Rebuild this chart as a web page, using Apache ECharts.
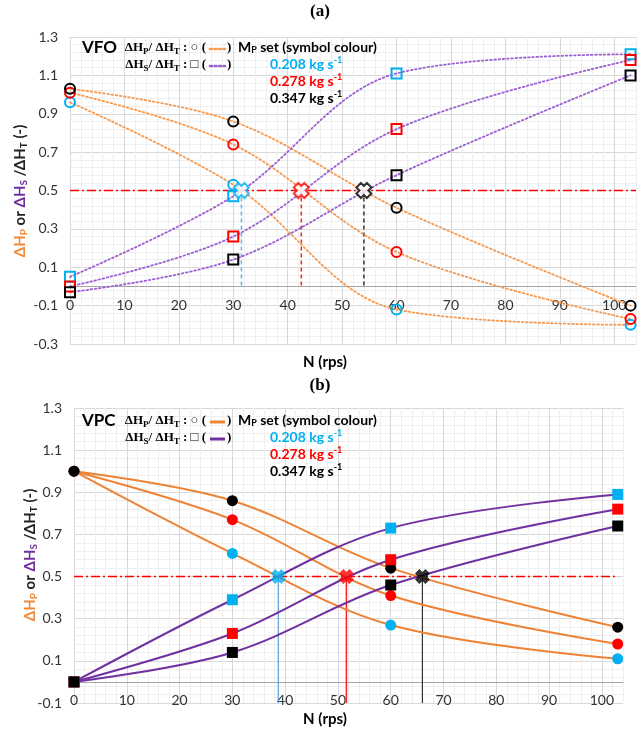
<!DOCTYPE html>
<html><head><meta charset="utf-8">
<script src="https://cdn.jsdelivr.net/npm/echarts@6/dist/echarts.min.js"></script>
<style>html,body{margin:0;padding:0;background:#fff}#c{width:640px;height:731px}</style>
</head><body><div id="c"></div>
<script>
// ---------- data ----------
const N = [0, 30, 60, 103];                 // rotational speed (rps)
const massFlows = ['0.208', '0.278', '0.347'];
const setColours = ['#00b0f0', '#ff0000', '#000000'];

// (a) VFO
const vfoHP_208 = [0.96, 0.53, -0.12, -0.20];
const vfoHP_278 = [1.01, 0.74, 0.18, -0.17];
const vfoHP_347 = [1.03, 0.86, 0.41, -0.10];
const vfoHS_208 = [0.05, 0.47, 1.11, 1.21];
const vfoHS_278 = [0.00, 0.26, 0.82, 1.18];
const vfoHS_347 = [-0.03, 0.14, 0.58, 1.10];
const vfoCrossN = [31.5, 42.5, 54];

// (b) VPC
const vpcHP_208 = [1.00, 0.61, 0.27, 0.11];
const vpcHP_278 = [1.00, 0.77, 0.41, 0.18];
const vpcHP_347 = [1.00, 0.86, 0.54, 0.26];
const vpcHS_208 = [0.00, 0.39, 0.73, 0.89];
const vpcHS_278 = [0.00, 0.23, 0.58, 0.82];
const vpcHS_347 = [0.00, 0.14, 0.46, 0.74];
const vpcCrossN = [38.7, 51.6, 66];

const halfLevel = 0.5;
const nRange = [0, 104];
const yRangeA = [-0.3, 1.3];
const yRangeB = [-0.1, 1.3];
const refSpanA = [0, 104];
const refSpanB = [0, 103];
const dropToA = 0;
const dropToB = -0.1;
const xTickStep = 10;
const yTickStep = 0.2;

// ---------- layout ----------
const gridA = { left: 70, right: 4, top: 37, bottom: 387 };
const gridB = { left: 74, right: 17, top: 408, bottom: 28 };
const H = 731;
function zeroOffset(g, range) {
  const h = H - g.top - g.bottom;
  return -h * (0 - range[0]) / (range[1] - range[0]);
}

// ---------- styling ----------
const LF = 'Lato';
const orangeA = '#f79a50', purpleA = '#9b5fd2';
const orangeB = '#ee8336', purpleB = '#7030a0';
const dropColsA = ['#5fb6e8', '#ff2020', '#333333'];
const dropColsB = ['#5b9bd5', '#ff2020', '#333333'];
const crossPath = 'path://M3,0L5,2L7,0L10,3L8,5L10,7L7,10L5,8L3,10L0,7L2,5L0,3Z';

function xAxisFor(g, off) {
  return {
    type: 'value', gridIndex: g, min: nRange[0], max: nRange[1], interval: 2,
    position: 'bottom', offset: off,
    axisLine: { onZero: false, lineStyle: { color: '#a6a6a6', width: 1 } },
    axisTick: { show: false },
    axisLabel: { margin: 12, fontFamily: LF, fontSize: 14, color: '#333',
      formatter: v => (Math.round(v) % xTickStep === 0 ? String(Math.round(v)) : '') },
    splitLine: { show: true, lineStyle: { color: ['#d9d9d9', '#efefef', '#efefef', '#efefef', '#efefef'], width: 1 } }
  };
}
function yAxisFor(g, range) {
  return {
    type: 'value', gridIndex: g, min: range[0], max: range[1], interval: yTickStep,
    axisLine: { show: false }, axisTick: { show: false },
    axisLabel: { margin: 12, fontFamily: LF, fontSize: 14, color: '#333', formatter: v => v.toFixed(1) },
    splitLine: { show: true, lineStyle: { color: '#d9d9d9' } },
    minorTick: { show: false, splitNumber: 5 },
    minorSplitLine: { show: true, lineStyle: { color: '#efefef' } }
  };
}
const pts = arr => N.map((n, i) => [n, arr[i]]);

function curve(g, arr, col, lineCol, symbol, filled, dotted, size) {
  return {
    type: 'line', xAxisIndex: g, yAxisIndex: g, data: pts(arr),
    smooth: 0.35, symbol: symbol, symbolSize: size, showAllSymbol: true, clip: false,
    lineStyle: dotted ? { color: lineCol, width: 1.8, type: [1.6, 2.6], cap: 'round' }
                      : { color: lineCol, width: 2 },
    itemStyle: filled ? { color: col, borderWidth: 0 }
                      : { color: 'rgba(255,255,255,0)', borderColor: col, borderWidth: 2 },
    z: 3, silent: true
  };
}

const series = [];
series.push({ type: 'line', xAxisIndex: 0, yAxisIndex: 0, data: refSpanA.map(x => [x, halfLevel]),
  symbol: 'none', lineStyle: { color: '#ff0000', width: 1.5, type: [9, 3, 2, 3] }, z: 2, silent: true });
series.push({ type: 'line', xAxisIndex: 1, yAxisIndex: 1, data: refSpanB.map(x => [x, halfLevel]),
  symbol: 'none', lineStyle: { color: '#ff0000', width: 1.5, type: [9, 3, 2, 3] }, z: 2, silent: true });
vfoCrossN.forEach((n, i) => series.push({ type: 'line', xAxisIndex: 0, yAxisIndex: 0,
  data: [[n, halfLevel], [n, dropToA]], symbol: 'none',
  lineStyle: { color: dropColsA[i], width: 1.5, type: [4, 3] }, z: 2, silent: true }));
vpcCrossN.forEach((n, i) => series.push({ type: 'line', xAxisIndex: 1, yAxisIndex: 1,
  data: [[n, halfLevel], [n, dropToB]], symbol: 'none',
  lineStyle: { color: dropColsB[i], width: i === 1 ? 1.5 : 1.2 }, z: 2, silent: true }));

[vfoHP_208, vfoHP_278, vfoHP_347].forEach((a, i) => series.push(curve(0, a, setColours[i], orangeA, 'circle', false, true, 10)));
[vfoHS_208, vfoHS_278, vfoHS_347].forEach((a, i) => series.push(curve(0, a, setColours[i], purpleA, 'rect', false, true, 10)));
[vpcHP_208, vpcHP_278, vpcHP_347].forEach((a, i) => series.push(curve(1, a, setColours[i], orangeB, 'circle', true, false, 11)));
[vpcHS_208, vpcHS_278, vpcHS_347].forEach((a, i) => series.push(curve(1, a, setColours[i], purpleB, 'rect', true, false, 11)));

vfoCrossN.forEach((n, i) => series.push({ type: 'scatter', xAxisIndex: 0, yAxisIndex: 0, data: [[n, halfLevel]],
  symbol: crossPath, symbolSize: 15, itemStyle: { color: '#ffffff', borderColor: setColours[i], borderWidth: 2 }, z: 5, silent: true }));
vpcCrossN.forEach((n, i) => series.push({ type: 'scatter', xAxisIndex: 1, yAxisIndex: 1, data: [[n, halfLevel]],
  symbol: crossPath, symbolSize: 15, itemStyle: { color: setColours[i] }, z: 5, silent: true }));

// ---------- texts ----------
const serifB = 'bold 13px "Liberation Serif"';
const subRich = {
  m: { fontFamily: 'Liberation Serif', fontWeight: 'bold', fontSize: 13, lineHeight: 16, fill: '#000', color: '#000' },
  s: { fontFamily: 'Liberation Serif', fontWeight: 'bold', fontSize: 9, lineHeight: 9, verticalAlign: 'bottom', fill: '#000', color: '#000' }
};
function txt(x, y, text, font, fill, align, extra) {
  return { type: 'text', x: x, y: y, silent: true, z: 10,
    style: Object.assign({ text: text, font: font, fill: fill, align: align || 'left', verticalAlign: 'middle',
      textAlign: align || 'left', textVerticalAlign: 'middle' }, extra || {}) };
}
function legendBlock(y0, label, dotted, oCol, pCol) {
  const out = [];
  out.push(txt(82, y0, label, 'bold 17px Lato', '#000'));
  out.push(txt(206, y0, '{m|ΔH}{s|P}{m|/ ΔH}{s|T}{m| : ○ (}', serifB, '#000', 'right', { rich: subRich }));
  out.push(txt(206, y0 + 17, '{m|ΔH}{s|S}{m|/ ΔH}{s|T}{m| : □ (}', serifB, '#000', 'right', { rich: subRich }));
  out.push(txt(227, y0, ')', serifB, '#000'));
  out.push(txt(227, y0 + 17, ')', serifB, '#000'));
  const ls = dotted ? { lineWidth: 2.5, lineDash: [2, 2.6], lineCap: 'round' } : { lineWidth: 3 };
  out.push({ type: 'line', silent: true, z: 10, shape: { x1: 210, y1: y0 + 1, x2: 225, y2: y0 + 1 },
    style: Object.assign({ stroke: oCol }, ls) });
  out.push({ type: 'line', silent: true, z: 10, shape: { x1: 210, y1: y0 + 18, x2: 225, y2: y0 + 18 },
    style: Object.assign({ stroke: pCol }, ls) });
  const lr = {
    m: { fontFamily: LF, fontWeight: 'bold', fontSize: 14, lineHeight: 16 },
    s: { fontFamily: LF, fontWeight: 'bold', fontSize: 9, lineHeight: 9, verticalAlign: 'bottom' }
  };
  out.push(txt(238, y0 - 1, '{m|M}{s|P}{m| set (symbol colour)}', 'bold 14px Lato', '#000', 'left', { rich: lr }));
  massFlows.forEach((m, i) => {
    const r = {
      m: { fontFamily: LF, fontWeight: 'bold', fontSize: 14, lineHeight: 16, fill: setColours[i], color: setColours[i] },
      u: { fontFamily: LF, fontWeight: 'bold', fontSize: 9, lineHeight: 9, verticalAlign: 'top', fill: setColours[i], color: setColours[i] }
    };
    out.push(txt(270, y0 + 16 + 17 * i, '{m|' + m + ' kg s}{u|-1}', 'bold 14px Lato', setColours[i], 'left', { rich: r }));
  });
  return out;
}
const yNameRich = {
  o: { fontFamily: LF, fontWeight: 'bold', fontSize: 15, lineHeight: 18, fill: '#f08a3c', color: '#f08a3c' },
  os: { fontFamily: LF, fontWeight: 'bold', fontSize: 10, lineHeight: 10, verticalAlign: 'bottom', fill: '#f08a3c', color: '#f08a3c' },
  p: { fontFamily: LF, fontWeight: 'bold', fontSize: 15, lineHeight: 18, fill: '#7030a0', color: '#7030a0' },
  ps: { fontFamily: LF, fontWeight: 'bold', fontSize: 10, lineHeight: 10, verticalAlign: 'bottom', fill: '#7030a0', color: '#7030a0' },
  k: { fontFamily: LF, fontWeight: 'bold', fontSize: 15, lineHeight: 18, fill: '#222', color: '#222' },
  ks: { fontFamily: LF, fontWeight: 'bold', fontSize: 10, lineHeight: 10, verticalAlign: 'bottom', fill: '#222', color: '#222' }
};
const yNameText = '{o|ΔH}{os|P}{k| or }{p|ΔH}{ps|S}{k| /ΔH}{ks|T}{k| (-)}';
function yName(x, y) {
  return { type: 'text', x: x, y: y, rotation: Math.PI / 2, silent: true, z: 10,
    style: { text: yNameText, rich: yNameRich, align: 'center', verticalAlign: 'middle',
      textAlign: 'center', textVerticalAlign: 'middle', font: 'bold 15px Lato' } };
}

const graphics = [
  txt(320, 12, '(a)', 'bold 17px "Liberation Serif"', '#000', 'center'),
  txt(320, 386, '(b)', 'bold 17px "Liberation Serif"', '#000', 'center'),
  txt(325, 362, 'N (rps)', 'bold 15px Lato', '#000', 'center'),
  txt(325, 719, 'N (rps)', 'bold 15px Lato', '#000', 'center'),
  yName(20, 191),
  yName(30, 555)
].concat(legendBlock(48, 'VFO', true, orangeA, purpleA))
 .concat(legendBlock(421, 'VPC', false, orangeB, purpleB));

const chart = echarts.init(document.getElementById('c'));
chart.setOption({
  animation: false,
  backgroundColor: '#fff',
  grid: [
    Object.assign({ containLabel: false }, gridA),
    Object.assign({ containLabel: false }, gridB)
  ],
  xAxis: [xAxisFor(0, zeroOffset(gridA, yRangeA)), xAxisFor(1, zeroOffset(gridB, yRangeB))],
  yAxis: [yAxisFor(0, yRangeA), yAxisFor(1, yRangeB)],
  series: series,
  graphic: { elements: graphics }
});
</script></body></html>
